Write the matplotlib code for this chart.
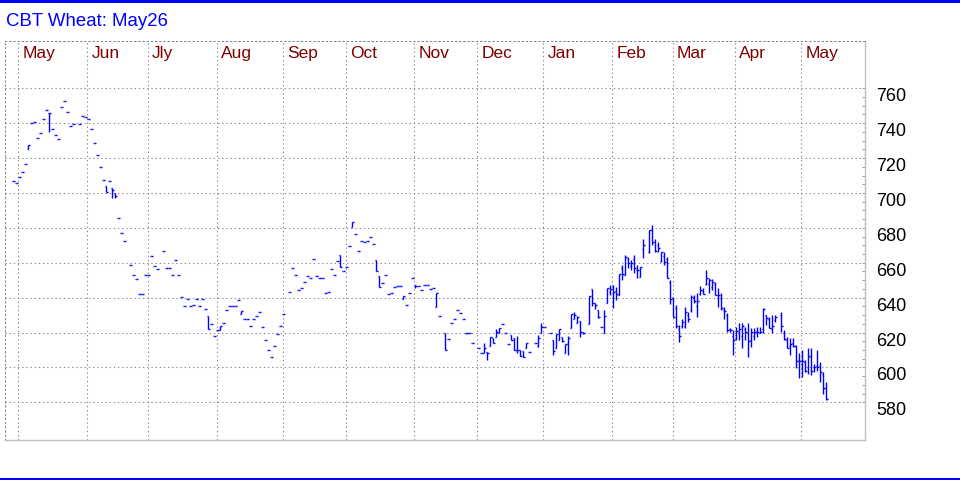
import numpy as np
import matplotlib
matplotlib.use("Agg")
from matplotlib import pyplot as plt
from matplotlib.collections import LineCollection
from matplotlib.patches import Rectangle
from matplotlib.transforms import blended_transform_factory, ScaledTranslation

plt.rcParams['font.family'] = ['Liberation Sans', 'DejaVu Sans']

title = "CBT Wheat: May26"

# daily bars (one slot per trading day, None = no bar)
opens = [
    707, 706, 709, 712, 716.5, 725, 740, 740.5, 731.25, 734.25, 742.25, 747.5, 745.75, 736.5, 733.5, 730.75,
    749.25, 753, 746.25, 738.25, 739.5, None, 739.5, 744, 743.5, 742.25, 736.5, 728.5, 721.5, 714.75, 707.25,
    704, 706.75, 702.75, 700, 685.5, 677, 672.75, None, 658.5, 653.25, 650.5, 642, 642, 653.25, 653.25,
    663.75, 658, 656.25, None, 667, 656.75, 656.75, 653.25, 661.5, 652.75, 640.25, 635, 639.5, 635.5, 636,
    639.5, 635.5, 639.5, 633.25, 629.75, 624.75, 617.75, 621.25, 621.5, 625.25, 632.75, 635.5, 635.5, 635,
    638.5, 630.75, 628, 627.5, 623.5, 628, 629.75, 631.5, 623, 616, 610.25, 606.25, 612.5, 619, 624, 630.5,
    None, 643, 656.75, 652.75, 644.25, 645.25, 648.75, 652.25, 651, 662, 652.25, 651, 651, 642.5, 643,
    656.25, 653.25, 660.75, 664.25, 655, 657.5, 669.5, 680.5, 676.25, 667, 672.75, 671.75, 672.25, 674.5,
    670.5, 661.5, 652.25, 648.25, 652.75, 642, 642.5, 646, 646.5, 646.5, 639, 636, 642.5, 651, 647.5,
    646.5, 644.25, 647.5, 647, 644.75, 645.25, 634.75, 629.75, None, 620, 616.5, 625.5, 628, 632.75, 631,
    627.5, 620, 619.5, 613.75, None, 611, 608, 608, 609, 612.5, 617, 617.5, 620, 624.75, 620, 613.5,
    618.5, 616.75, 610.25, 610, 609.5, 611.25, 609, None, 614, 612, 620, 623, None, 619.75, 615.75,
    611.25, 615.5, 617.5, 608.5, 613.5, 622.5, 627.5, 625.25, 626.5, 620.25, None, 624.75, 644.75, 636.75,
    632.75, 623, 620, 636.75, 643, 646, 644, 641.5, 657, 653, 662, 658, 662, 656, 652, 668, None,
    666, 679, 672, 670, 661, 664, 662, 649, 640, 634, 622, 624, 624, 630, 633, 640, 635, 642, 644,
    648, 648, 646, 648, 640, 640, 633, 630, 622, 618, 617, 620, 618, 622, 620, 616, 618, 621, 620,
    622, 630, 628, 622, 627, None, 630, 620, 616, 612, 614, 612, 604, 602, 603, 600, 606, 600, 601,
    601, 596, 588,
]
highs = [
    707, 706, 709, 712, 716.5, 727.25, 740, 740.5, 731.25, 734.25, 742.25, 747.5, 745.75, 736.5, 733.5, 730.75,
    749.25, 753, 746.25, 738.25, 739.5, None, 739.5, 744, 743.5, 742.25, 736.5, 728.5, 721.5, 714.75, 707.25,
    704, 706.75, 702.75, 700, 685.5, 677, 672.75, None, 658.5, 653.25, 650.5, 642, 642, 653.25, 653.25,
    663.75, 658, 656.25, None, 667, 656.75, 656.75, 653.25, 661.5, 652.75, 640.25, 635, 639.5, 635.5, 636,
    639.5, 635.5, 639.5, 633.25, 629.75, 624.75, 617.75, 621.25, 624, 625.25, 632.75, 635.5, 635.5, 635,
    638.5, 632.25, 628, 627.5, 623.5, 628, 629.75, 631.5, 623, 616, 610.25, 606.25, 612.5, 619, 624, 630.5,
    None, 643, 656.75, 652.75, 644.25, 645.25, 648.75, 652.25, 651, 662, 652.25, 651, 651, 642.5, 643,
    656.25, 653.25, 660.75, 664.25, 655, 657.5, 669.5, 683.25, 676.25, 667, 672.75, 671.75, 672.25, 674.5,
    670.5, 661.5, 652.25, 648.25, 652.75, 642, 642.5, 646, 646.5, 646.5, 641, 636, 642.5, 651, 647.5,
    646.5, 644.25, 647.5, 647, 644.75, 645.25, 642.5, 629.75, None, 620, 616.5, 625.5, 628, 632.75, 631,
    627.5, 620, 619.5, 613.75, None, 611, 608, 613.75, 609, 617.5, 617, 622, 622.5, 624.75, 620, 613.5,
    618.5, 616.75, 618, 610, 609.5, 613.75, 609, None, 614, 618.5, 625.25, 623, None, 619.75, 615.75,
    619, 621.75, 617.5, 613.5, 618, 630.5, 632, 629.5, 626.5, 620.25, None, 640.75, 644.75, 636.75,
    632.75, 623, 633, 645.25, 647.25, 647.25, 646, 653.5, 658.75, 664.5, 663.5, 661.5, 664.5, 658.75, 657.75, 673.5, None,
    679, 681.5, 673.5, 672, 666.25, 666.25, 663.5, 650, 640.5, 635.75, 624.25, 628, 634.75, 632, 641.5, 641.5, 642.5, 646.5, 645.25,
    655.75, 651, 650.5, 649, 645.25, 642.5, 634.75, 631, 622.5, 621.5, 623.25, 625.25, 625.25, 623.25, 625.25, 622.5, 622.5, 623.25, 623.25,
    634, 630, 629, 630, 630, None, 632, 621.5, 617.5, 616.75, 616.75, 612.75, 608, 610, 604.25, 611, 611, 602.25, 610,
    603.25, 597.5, 591.75,
]
lows = [
    707, 706, 709, 712, 716.5, 725, 740, 740.5, 731.25, 734.25, 742.25, 747.5, 735, 736.5, 733.5, 730.75,
    749.25, 753, 746.25, 738.25, 739.5, None, 739.5, 744, 743.5, 742.25, 736.5, 728.5, 721.5, 714.75, 707.25,
    700.75, 706.75, 697.25, 697, 685.5, 677, 672.75, None, 658.5, 653.25, 650.5, 642, 642, 653.25, 653.25,
    663.75, 658, 656.25, None, 667, 656.75, 656.75, 653.25, 661.5, 652.75, 640.25, 635, 639.5, 635.5, 636,
    639.5, 635.5, 639.5, 633.25, 621.75, 624.75, 617.75, 621.25, 621.5, 625.25, 632.75, 635.5, 635.5, 635,
    638.5, 630.75, 628, 627.5, 623.5, 628, 629.75, 631.5, 623, 616, 610.25, 606.25, 612.5, 619, 624, 630.5,
    None, 643, 656.75, 652.75, 644.25, 645.25, 648.75, 652.25, 651, 662, 652.25, 651, 651, 642.5, 643,
    656.25, 653.25, 660.75, 657.5, 655, 657.5, 669.5, 680.5, 676.25, 667, 672.75, 671.75, 672.25, 674.5,
    670.5, 655.5, 646, 648.25, 652.75, 642, 642.5, 646, 646.5, 646.5, 639, 636, 642.5, 651, 645.25,
    646.5, 644.25, 647.5, 647, 644.75, 645.25, 634.75, 629.75, None, 609.75, 616.5, 625.5, 628, 632.75, 631,
    627.5, 619, 619.5, 613.75, None, 611, 608, 608, 604, 612.5, 614, 617.5, 620, 624.75, 620, 613.5,
    616, 610, 608, 606.5, 605.75, 611.25, 609, None, 614, 611.75, 619.5, 623, None, 619.75, 607,
    611.25, 615.5, 614.5, 608.5, 607, 622.5, 627.5, 625.25, 617.5, 619, None, 624.75, 635.25, 633.25,
    628.25, 623, 619.5, 636.75, 641.5, 634, 638.5, 641.5, 650, 653, 656.75, 655.75, 654, 651.5, 652, 663, None,
    665.75, 670.25, 666.25, 666.25, 660.5, 658.75, 651, 636.25, 629, 622.5, 614.75, 622.5, 622.5, 626.25, 632, 636.75, 629, 641.5, 642,
    647.25, 642.5, 644.25, 641.5, 634.75, 633, 628, 620.5, 620.5, 607, 615.75, 615.75, 611, 615.75, 606, 611.75, 615.75, 617.5, 619.5,
    619.5, 624.25, 622.5, 619.5, 626.25, None, 620.5, 615.75, 611, 607, 611.75, 599.5, 593.75, 594.5, 597.5, 596.5, 595.5, 597.5, 598,
    591.75, 585, 581.25,
]
closes = [
    707, 706, 709, 712, 716.5, 727.25, 740, 740.5, 731.25, 734.25, 742.25, 747.5, 745.75, 736.5, 733.5, 730.75,
    749.25, 753, 746.25, 738.25, 739.5, None, 739.5, 744, 743.5, 742.25, 736.5, 728.5, 721.5, 714.75, 707.25,
    700.75, 706.75, 701.75, 698, 685.5, 677, 672.75, None, 658.5, 653.25, 650.5, 642, 642, 653.25, 653.25,
    663.75, 658, 656.25, None, 667, 656.75, 656.75, 653.25, 661.5, 652.75, 640.25, 635, 639.5, 635.5, 636,
    639.5, 635.5, 639.5, 633.25, 621.75, 624.75, 617.75, 621.25, 624, 625.25, 632.75, 635.5, 635.5, 635,
    638.5, 632.25, 628, 627.5, 623.5, 628, 629.75, 631.5, 623, 616, 610.25, 606.25, 612.5, 619, 624, 630.5,
    None, 643, 656.75, 652.75, 644.25, 645.25, 648.75, 652.25, 651, 662, 652.25, 651, 651, 642.5, 643,
    656.25, 653.25, 660.75, 657.5, 655, 657.5, 669.5, 683.25, 676.25, 667, 672.75, 671.75, 672.25, 674.5,
    670.5, 655.5, 646, 648.25, 652.75, 642, 642.5, 646, 646.5, 646.5, 641, 636, 642.5, 651, 646.75,
    646.5, 644.25, 647.5, 647, 644.75, 645.25, 642.5, 629.75, None, 609.75, 616.5, 625.5, 628, 632.75, 631,
    627.5, 619.5, 619.5, 613.75, None, 611, 608, 611, 608, 617.5, 614, 620.25, 622.5, 624.75, 620, 613.5,
    616, 610, 610, 606.5, 605.75, 613.75, 609, None, 614, 617, 623.25, 623, None, 619.75, 609.5,
    619, 621.75, 615.25, 613.5, 617, 630.5, 630, 628.75, 620.25, 619.5, None, 640.75, 637, 636,
    628.75, 623, 629.5, 645.25, 645, 643.5, 642, 653.5, 653.5, 663.5, 660, 659.75, 656.75, 656, 657.75, 670, None,
    678.5, 672, 667, 668.5, 666.25, 660.5, 651.5, 639, 629, 624, 618.25, 626, 632, 628, 640.5, 638, 638, 644.5, 642,
    651.5, 650, 649.25, 641.5, 641.5, 634, 632.5, 621.5, 621.5, 615.75, 621, 622, 623.5, 620.5, 615, 620.25, 620.5, 620.25, 620.5,
    633.25, 628.5, 622.5, 624, 629, None, 624, 616.5, 611.25, 613.25, 612.25, 603.5, 603.5, 603.5, 598, 606.5, 598, 600, 600.5,
    597.5, 588, 581.75,
]

months = ["May", "Jun", "Jly", "Aug", "Sep", "Oct", "Nov", "Dec", "Jan", "Feb", "Mar", "Apr", "May"]
# first trading slot of each month (in bar-slot units)
month_pos = [1.67, 24.67, 44.8, 67.8, 89.8, 110.8, 133.7, 154.7, 176.7, 199.7, 219.8, 240.6, 262.7]
price_levels = [580, 600, 620, 640, 660, 680, 700, 720, 740, 760]

o = np.array(opens, dtype=float)
h = np.array(highs, dtype=float)
l = np.array(lows, dtype=float)
c = np.array(closes, dtype=float)
x = np.arange(len(c))

fig = plt.figure(figsize=(9.6, 4.8), dpi=100)
fig.patch.set_facecolor("white")
ax = fig.add_axes([5.3/960, 40/480, (865 - 5.3)/960, (440 - 40.7)/480])
ax.set_xlim(-2.67, 283.9)
ax.set_ylim(558.4, 787.3)

# ohlc bars
tick = 0.45
segs = []
for xi, oi, hi, li, ci in zip(x, o, h, l, c):
    if np.isnan(ci):
        continue
    segs.append([(xi, li), (xi, hi)])
    segs.append([(xi - tick, oi), (xi, oi)])
    segs.append([(xi, ci), (xi + tick, ci)])
ax.add_collection(LineCollection(segs, colors="#0000ff", linewidths=1.0, capstyle="butt"))

# grid + spines
dots = (0, (1.3, 2.7))
ax.set_xticks(month_pos)
ax.set_yticks(price_levels)
ax.set_yticks(np.arange(580, 761, 5), minor=True)
ax.grid(True, which="major", color="#888888", linestyle=dots, linewidth=0.75)
ax.tick_params(axis="x", length=0, labelbottom=False)
ax.yaxis.set_ticks_position("right")
ax.tick_params(axis="y", which="both", direction="in", length=2.2, width=0.75,
               color="#a0a0a0", labelright=False, labelleft=False)
for side in ["left", "top"]:
    ax.spines[side].set_color("#888888")
    ax.spines[side].set_linestyle(dots)
    ax.spines[side].set_linewidth(0.75)
for side in ["right", "bottom"]:
    ax.spines[side].set_color("#c0c0c0")
    ax.spines[side].set_linewidth(1.0)

# price labels on the right
ytr = blended_transform_factory(ax.transAxes, ax.transData) + ScaledTranslation(0.11, -0.13, fig.dpi_scale_trans)
for v in price_levels:
    ax.text(1.0, v, str(v), transform=ytr, ha="left", va="baseline", fontsize=13, color="black", clip_on=False)

# month labels at the top
xtr = blended_transform_factory(ax.transData, ax.transAxes) + ScaledTranslation(0.04, 0, fig.dpi_scale_trans)
for p, m in zip(month_pos, months):
    ax.text(p, 0.967, m, transform=xtr, ha="left", va="center", fontsize=12.5, color="#800000")

fig.text(6/960, 1 - 21/480, title, color="#0000ff", fontsize=13.4, ha="left", va="center")

# blue bands top and bottom
fig.add_artist(Rectangle((0, 1 - 2.7/480), 1, 2.7/480, transform=fig.transFigure, color="#0000ff", lw=0))
fig.add_artist(Rectangle((0, 0), 1, 2.5/480, transform=fig.transFigure, color="#0000ff", lw=0))

fig.savefig("out.png", dpi=100)
